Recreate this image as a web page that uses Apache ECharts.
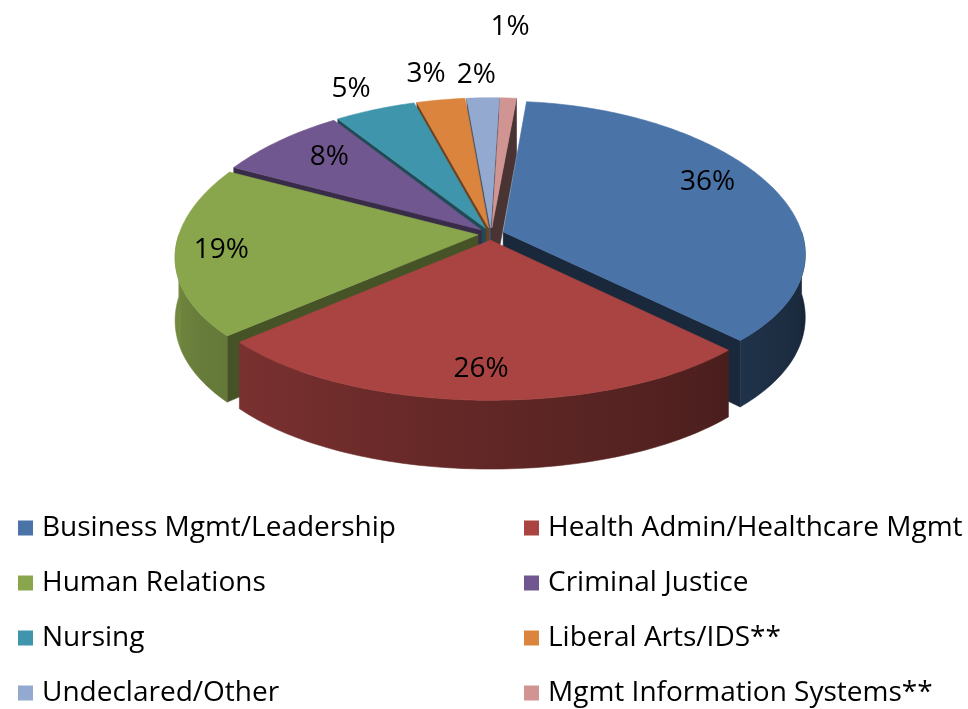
<!DOCTYPE html>
<html><head><meta charset="utf-8">
<script src="https://cdn.jsdelivr.net/npm/echarts@6/dist/echarts.min.js"></script>
<style>html,body{margin:0;padding:0;background:#fff}#c{width:968px;height:709px}</style>
</head><body><div id="c"></div>
<script>
const categories = ['Business Mgmt/Leadership','Health Admin/Healthcare Mgmt','Human Relations','Criminal Justice','Nursing','Liberal Arts/IDS**','Undeclared/Other','Mgmt Information Systems**'];
const values = [36, 26, 19, 8, 5, 3, 2, 1];
const labels = ['36%','26%','19%','8%','5%','3%','2%','1%'];

// styles / geometry (kept separate from data)
const colors = ['#4A73A8','#A94442','#8AA64D','#71578F','#3F96AC','#DB843D','#93A9CF','#D09493'];
const G = {cx:491, cy:234, R:299, ryRatio:0.48, kx:0.15, ky:0.095, h:62, explode:13, startDeg:5.5};
const labelRadius = [0.81, 0.82, 0.85, 0.77, 1.2, 1.23, 1.2, 1.63];
const labelShift = [-6.9, 0, 0, 2.5, -1, -1, -1, -1];
const FONT = '"Open Sans", sans-serif';

const rad = d => d*Math.PI/180;
function proj(u, v, z){
  const sx = 1/(1+G.kx*v/G.R), sy = 1/(1+G.ky*v/G.R);
  return [G.cx + u*sx, G.cy - G.ryRatio*v*sy + z*sy];
}
const total = values.reduce((a,b)=>a+b,0);
const slices = []; let acc = 0;
values.forEach(v => { const a0 = G.startDeg + acc/total*360; acc += v; const a1 = G.startDeg + acc/total*360; slices.push({a0, a1, m:(a0+a1)/2}); });
function pt(s, th, r, z){
  const t = rad(th), m = rad(s.m);
  return proj(r*Math.sin(t) + G.explode*Math.sin(m), r*Math.cos(t) + G.explode*Math.cos(m), z);
}
function arc(s, from, to, r, z){
  const n = Math.max(2, Math.ceil(Math.abs(to-from)));
  const out = [];
  for (let j=0;j<=n;j++) out.push(pt(s, from+(to-from)*j/n, r, z));
  return out;
}
function shade(hex, f){
  const n = parseInt(hex.slice(1),16);
  const r=(n>>16)&255, g=(n>>8)&255, b=n&255;
  return 'rgb('+Math.round(r*f)+','+Math.round(g*f)+','+Math.round(b*f)+')';
}
function poly(points, fill, stroke){
  return {type:'polygon', shape:{points}, style:{fill, stroke: stroke||fill, lineWidth:0.6}};
}
const wallF = th => 0.3 + 0.55*(th-90)/180;

function renderSlice(i){
  const s = slices[i], base = colors[i], ch = [];
  if (Math.sin(rad(s.a0)) < 0)
    ch.push(poly([pt(s,s.a0,0,0),pt(s,s.a0,G.R,0),pt(s,s.a0,G.R,G.h),pt(s,s.a0,0,G.h)], shade(base,0.5)));
  if (Math.sin(rad(s.a1)) > 0)
    ch.push(poly([pt(s,s.a1,0,0),pt(s,s.a1,G.R,0),pt(s,s.a1,G.R,G.h),pt(s,s.a1,0,G.h)], shade(base,0.35)));
  const lo = Math.max(s.a0, 90), hi = Math.min(s.a1, 270);
  if (hi > lo){
    const top = arc(s, lo, hi, G.R, 0), bot = arc(s, hi, lo, G.R, G.h);
    const xs = top.map(p=>p[0]).concat(bot.map(p=>p[0]));
    const xmin = Math.min(...xs), xmax = Math.max(...xs);
    const stops = [];
    for (let j=0;j<=10;j++){
      const th = hi - (hi-lo)*j/10;
      const x = pt(s, th, G.R, 0)[0];
      stops.push({offset: Math.min(1,Math.max(0,(x-xmin)/Math.max(1,xmax-xmin))), color: shade(base, wallF(th))});
    }
    stops.sort((a,b)=>a.offset-b.offset);
    const grad = {type:'linear', x:xmin, y:0, x2:xmax, y2:0, global:true, colorStops:stops};
    ch.push({type:'polygon', shape:{points: top.concat(bot)}, style:{fill:grad, stroke:grad, lineWidth:0.6}});
  }
  ch.push(poly([pt(s,s.a0,0,0)].concat(arc(s,s.a0,s.a1,G.R,0)), base));
  return {type:'group', children: ch};
}

// painter order: farthest (largest v of mid) first
const order = slices.map((s,i)=>({i, v:Math.cos(rad(s.m))})).sort((a,b)=>b.v-a.v).map(o=>o.i);
const rank = []; order.forEach((idx,r)=>rank[idx]=r);

const series = categories.map((name,i)=>({
  type:'custom', name, coordinateSystem:'none', z: 2+rank[i],
  itemStyle:{color:colors[i]}, silent:true,
  data:[[values[i]]],
  renderItem: () => renderSlice(i)
}));
series.push({
  type:'custom', name:'__labels', coordinateSystem:'none', z: 30, silent:true,
  data: values.map((v,i)=>[i]),
  renderItem: (params) => {
    const i = params.dataIndex, s = slices[i];
    const p = pt(s, s.m + labelShift[i], G.R*labelRadius[i], 0);
    return {type:'text', style:{text:labels[i], x:p[0], y:p[1], fill:'#000', font:'28px '+FONT, align:'center', verticalAlign:'middle'}};
  }
});

const legendCommon = {orient:'vertical', height:230, padding:0, itemWidth:15, itemHeight:15, itemGap:25, icon:'rect',
  textStyle:{fontFamily:FONT, fontSize:28, color:'#000', lineHeight:30, padding:[0,0,0,4]}, selectedMode:false};
const option = {
  animation:false,
  color: colors,
  legend:[
    Object.assign({left:18, top:513, data:[categories[0],categories[2],categories[4],categories[6]]}, legendCommon),
    Object.assign({left:524, top:513, data:[categories[1],categories[3],categories[5],categories[7]]}, legendCommon)
  ],
  series
};
const chart = echarts.init(document.getElementById('c'));
chart.setOption(option);
</script>
</body></html>
